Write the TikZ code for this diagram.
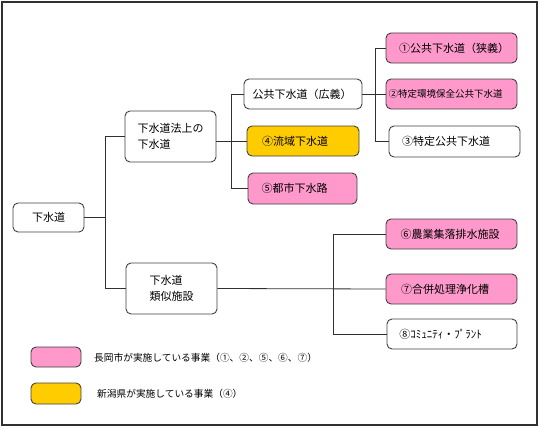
\documentclass[tikz,border=0pt]{standalone}
\usepackage{fontspec}
\setmainfont{Noto Sans CJK JP}
\definecolor{pinkfill}{HTML}{FF99CC}
\definecolor{yellowfill}{HTML}{FFCC00}
\definecolor{boxline}{HTML}{404040}
\definecolor{connline}{HTML}{303030}
\newcommand\sht[2]{\hspace*{#1pt}#2}
\begin{document}
\begin{tikzpicture}[x=1pt,y=-1pt,
  box/.style={draw=boxline, line width=0.9pt, rounded corners=5pt, fill=white,
    inner sep=0pt, font=\fontsize{11}{16.5}\selectfont},
  pinkbox/.style={box, fill=pinkfill},
  yellowbox/.style={box, fill=yellowfill},
  conn/.style={draw=connline, line width=0.8pt},
  legendtext/.style={inner sep=0pt, anchor=west, font=\fontsize{9.7}{12}\selectfont}
]
\useasboundingbox (0,0) rectangle (540,428);
\draw[draw=connline, line width=1.2pt] (2,2) rectangle (537,425);

% nodes
\node[box, minimum width=71pt, minimum height=29pt] (root) at (48.5,217.5) {下水道};
\node[box, minimum width=91pt, minimum height=51pt, align=left] (A) at (170.5,136.5) {下水道法上の\\下水道};
\node[box, minimum width=91pt, minimum height=51pt, align=left] (H) at (171.5,288.5) {下水道\\類似施設};
\node[box, minimum width=118pt, minimum height=30pt] (B) at (303,94) {\sht{-2}{公共下水道（広義）}};
\node[yellowbox, minimum width=112pt, minimum height=30pt] (C) at (303,141) {\sht{-16}{④流域下水道}};
\node[pinkbox, minimum width=109pt, minimum height=31pt] (D) at (302.5,188.5) {\sht{-16}{⑤都市下水路}};
\node[pinkbox, minimum width=131pt, minimum height=30pt] (E) at (451.5,48) {\sht{5}{①公共下水道（狭義）}};
\node[pinkbox, minimum width=131pt, minimum height=30pt, font=\fontsize{9.5}{12}\selectfont] (F) at (451.5,94) {\sht{-12}{②特定環境保全公共下水道}};
\node[box, minimum width=131pt, minimum height=31pt] (G) at (454.5,141.5) {\sht{-17}{③特定公共下水道}};
\node[pinkbox, minimum width=131pt, minimum height=30pt] (I) at (451.5,234) {\sht{-3}{⑥農業集落排水施設}};
\node[pinkbox, minimum width=131pt, minimum height=30pt] (J) at (451.5,289) {\sht{-13}{⑦合併処理浄化槽}};
\node[box, minimum width=130pt, minimum height=30pt] (K) at (452,334) {\sht{-23}{⑧ｺﾐｭﾆﾃｨ・ﾌﾟﾗﾝﾄ}};

% legend
\node[pinkbox, minimum width=50pt, minimum height=20pt] (L1) at (56,357) {};
\node[yellowbox, minimum width=50pt, minimum height=21pt] (L2) at (56,393.5) {};
\node[legendtext] (T1) at (94,358) {長岡市が実施している事業（①、②、⑤、⑥、⑦）};
\node[legendtext] (T2) at (97,394) {新潟県が実施している事業（④）};

% connectors
\coordinate (j1) at (106,217.5);
\draw[conn] (root.east) -- (j1);
\draw[conn] (A.west) -- ++(-19,0) |- (H.west);
\draw[conn] (A.east |- C.west) -- (C.west);
\draw[conn] (B.west) -- ++(-12,0) |- (D.west);
\draw[conn] (B.east) -- (F.west);
\draw[conn] (E.west) -- ++(-10,0) |- (G.west);
\draw[conn] (H.east) -- (J.west);
\draw[conn] (I.west) -- ++(-52,0) |- (K.west);
\end{tikzpicture}
\end{document}
